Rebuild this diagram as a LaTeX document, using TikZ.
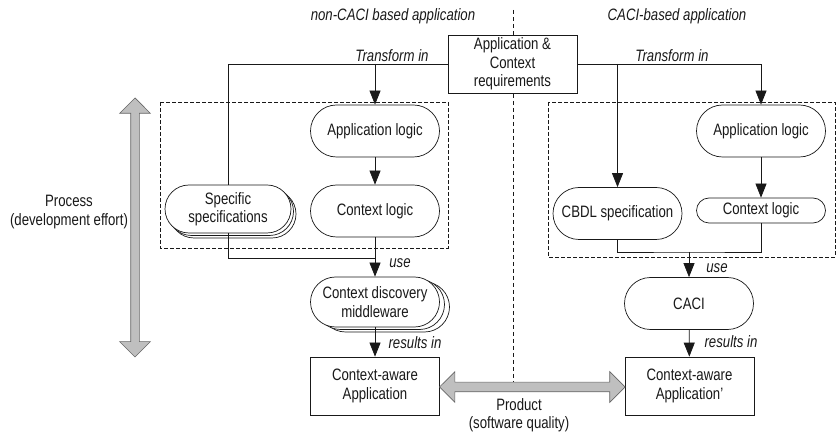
\documentclass[tikz,border=0pt]{standalone}
\usepackage{fontspec}
\setmainfont[FakeStretch=0.8]{Liberation Sans}
\usetikzlibrary{arrows.meta,shapes.arrows,shadows}

\begin{document}
\begin{tikzpicture}[x=1pt,y=-1pt,line width=0.7pt,color=black!90,
    font=\fontsize{16.5}{18.5}\selectfont,
    pill/.style={draw,fill=white,rounded corners=26pt,minimum width=129pt,minimum height=52pt,align=center,inner sep=1pt},
    box/.style={draw,fill=white,minimum width=129pt,minimum height=58pt,align=center,inner sep=1pt},
    stacka/.style={general shadow={draw,fill=white,shadow xshift=5pt,shadow yshift=-5pt},
                   general shadow={draw,fill=white,shadow xshift=2.5pt,shadow yshift=-2.5pt}},
    stackb/.style={general shadow={draw,fill=white,shadow xshift=10pt,shadow yshift=-5pt},
                   general shadow={draw,fill=white,shadow xshift=5pt,shadow yshift=-2.5pt}},
    lbl/.style={font=\fontsize{16.5}{18.5}\selectfont\itshape,inner sep=1pt},
    arr/.style={-{Triangle[width=11pt,length=14pt]}},
    dbox/.style={draw,dash pattern=on 4pt off 2pt},
    divider/.style={draw,line width=0.6pt,dash pattern=on 4pt off 3pt},
    fat/.style={double arrow,draw=black!60,fill=black!25,inner xsep=0pt,inner ysep=4.5pt,double arrow head extend=10.5pt}]
    \useasboundingbox (0,0) rectangle (838,435);

    \node[lbl] (hl) at (393,16) {non-CACI based application};
    \node[lbl] (hr) at (677,16) {CACI-based application};
    \draw[divider] (513,10) -- (513,387);
    \node[box] (req) at (512.5,64) {Application \&\\Context\\requirements};
    \draw[dbox] (160,102) rectangle (448,248);
    \draw[dbox] (548,102) rectangle (835,257);

    \node[pill] (appl) at (375,131) {Application logic};
    \node[pill] (ctxl) at (375,211) {Context logic};
    \node[pill,stacka,minimum width=126pt,minimum height=48pt,rounded corners=24pt] (spec) at (228,209) {Specific\\specifications};
    \node[pill,stackb,minimum height=50pt,rounded corners=25pt] (cdm) at (375,302) {Context discovery\\middleware};
    \node[box] (caa) at (375,386) {Context-aware\\Application};

    \node[pill] (appr) at (761,131) {Application logic};
    \node[pill,minimum height=25pt,rounded corners=12.5pt] (ctxr) at (761,210.5) {Context logic};
    \node[pill] (cbdl) at (617.5,213.5) {CBDL specification};
    \node[pill] (caci) at (689,303.5) {CACI};
    \node[box] (caar) at (689.5,386) {Context-aware\\Application'};

    \coordinate (lj) at (375,258);
    \coordinate (rj) at (689,252);
    \draw (req.west) -| (spec.north);
    \draw[arr] (req.west -| appl.north) -- (appl.north);
    \draw[arr] (appl) -- (ctxl);
    \draw (spec.south) |- (lj);
    \draw[arr] (ctxl) -- (cdm);
    \draw[arr] (cdm) -- (caa);

    \draw[arr] (req.east) -| (appr.north);
    \draw[arr] (req.east -| cbdl.north) -- (cbdl.north);
    \draw[arr] (appr) -- (ctxr);
    \draw (cbdl.south) |- (rj) -| (ctxr.south);
    \draw[arr] (rj) -- (caci.north);
    \draw[arr] (caci) -- (caar);

    \node[lbl] (tl) at (392,56) {Transform in};
    \node[lbl] (tr) at (672,56) {Transform in};
    \node[lbl] (ul) at (400,263) {use};
    \node[lbl] (ur) at (717,268) {use};
    \node[lbl] (rl) at (415,343) {results in};
    \node[lbl] (rr) at (731,342) {results in};

    \node[fat,minimum height=185.5pt] (prod) at (532.25,387) {};
    \node[fat,rotate=90,minimum height=259pt,inner ysep=4pt,double arrow head extend=11pt] (proc) at (135,227.5) {};
    \node[align=center] (prodt) at (519,415) {Product\\(software quality)};
    \node[align=center] (proct) at (69,212) {Process\\(development effort)};
\end{tikzpicture}
\end{document}
